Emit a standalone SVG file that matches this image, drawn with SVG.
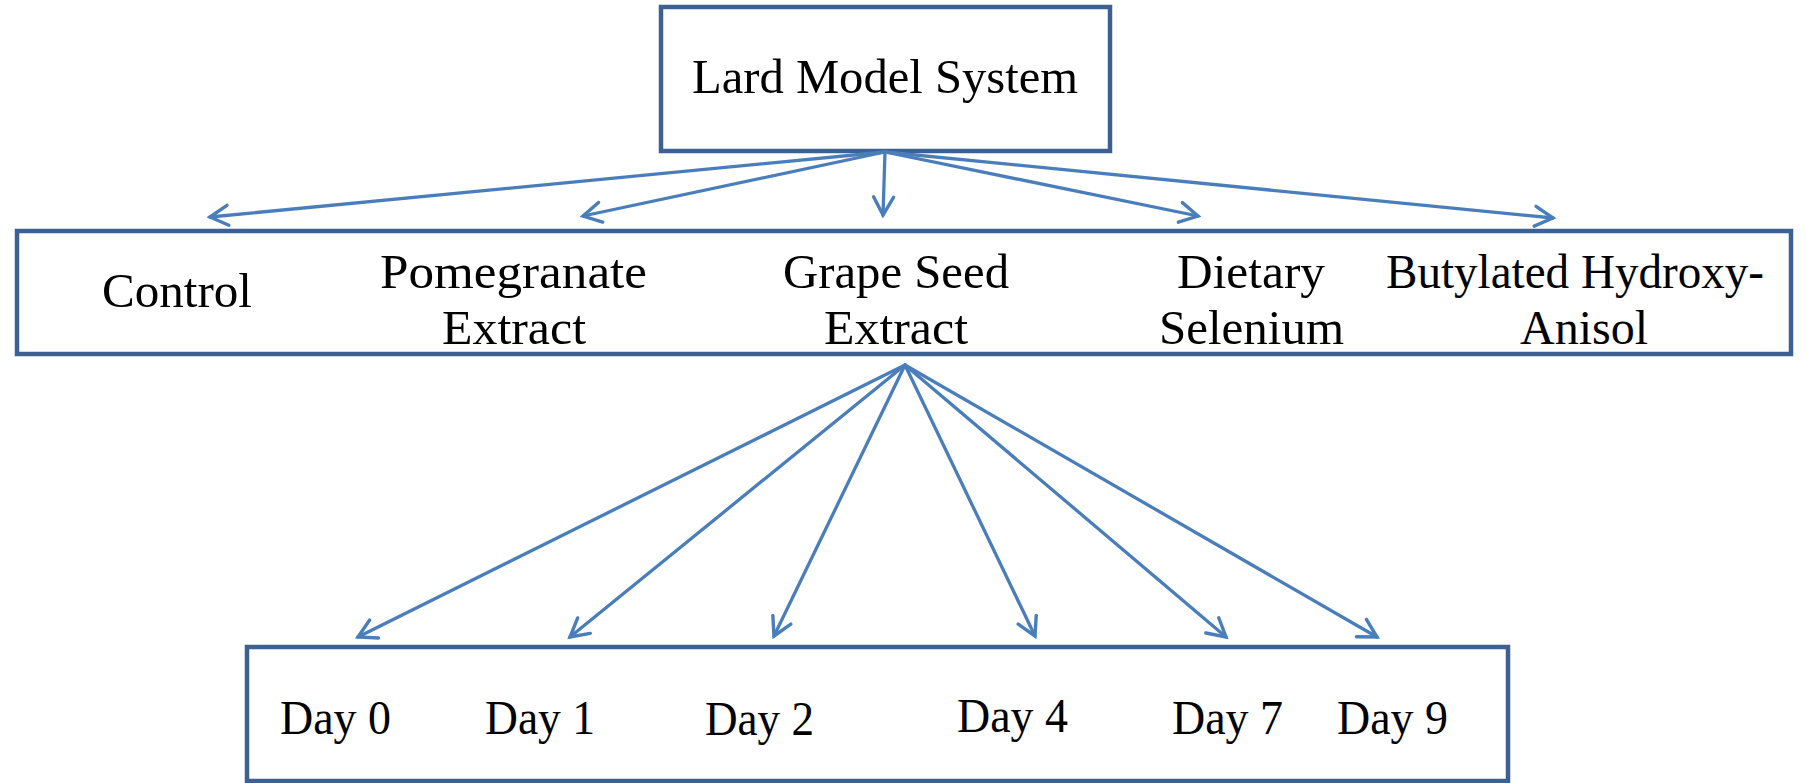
<svg xmlns="http://www.w3.org/2000/svg" width="1807" height="783" viewBox="0 0 1807 783">
  <style>
    .box { fill: #ffffff; stroke: #3C6191; stroke-width: 4.5; }
    .lbl { font-family: "Liberation Serif", "Times New Roman", serif; font-size: 48px; fill: #000000; }
    .conn line { stroke: #4A7EBB; stroke-width: 3.3; stroke-linecap: round; marker-end: url(#arrow); }
  </style>
  <defs>
    <marker id="arrow" markerUnits="userSpaceOnUse" viewBox="-20 -12 24 24" refX="0" refY="0" markerWidth="24" markerHeight="24" orient="auto" overflow="visible">
      <path d="M -18 -10 L 0 0 L -18 10" fill="none" stroke="#4A7EBB" stroke-width="3.4" stroke-linecap="round" stroke-linejoin="miter"/>
    </marker>
  </defs>

  <rect width="1807" height="783" fill="#ffffff"/>

  <!-- root -->
  <g id="lard-model-system">
    <rect class="box" x="661" y="7" width="449" height="144"/>
    <text class="lbl" x="692" y="93" textLength="386" lengthAdjust="spacingAndGlyphs">Lard Model System</text>
  </g>

  <!-- treatments -->
  <g id="treatments">
    <rect class="box" x="17" y="231" width="1774" height="123"/>
  </g>
  <g id="control">
    <text class="lbl" x="102" y="307" textLength="150" lengthAdjust="spacingAndGlyphs">Control</text>
  </g>
  <g id="pomegranate-extract">
    <text class="lbl" x="380" y="288" textLength="267" lengthAdjust="spacingAndGlyphs">Pomegranate</text>
    <text class="lbl" x="442" y="344" textLength="144" lengthAdjust="spacingAndGlyphs">Extract</text>
  </g>
  <g id="grape-seed-extract">
    <text class="lbl" x="783" y="288" textLength="226" lengthAdjust="spacingAndGlyphs">Grape Seed</text>
    <text class="lbl" x="824" y="344" textLength="144" lengthAdjust="spacingAndGlyphs">Extract</text>
  </g>
  <g id="dietary-selenium">
    <text class="lbl" x="1177" y="288" textLength="148" lengthAdjust="spacingAndGlyphs">Dietary</text>
    <text class="lbl" x="1159" y="344" textLength="185" lengthAdjust="spacingAndGlyphs">Selenium</text>
  </g>
  <g id="butylated-hydroxyanisol">
    <text class="lbl" x="1386" y="288" textLength="378" lengthAdjust="spacingAndGlyphs">Butylated Hydroxy-</text>
    <text class="lbl" x="1520" y="344" textLength="128" lengthAdjust="spacingAndGlyphs">Anisol</text>
  </g>

  <!-- sampling days -->
  <g id="days">
    <rect class="box" x="247" y="647" width="1261" height="134"/>
  </g>
  <g id="day-0"><text class="lbl" x="280" y="734" textLength="111" lengthAdjust="spacingAndGlyphs">Day 0</text></g>
  <g id="day-1"><text class="lbl" x="485" y="734" textLength="110" lengthAdjust="spacingAndGlyphs">Day 1</text></g>
  <g id="day-2"><text class="lbl" x="705" y="735" textLength="109" lengthAdjust="spacingAndGlyphs">Day 2</text></g>
  <g id="day-4"><text class="lbl" x="957" y="732" textLength="111" lengthAdjust="spacingAndGlyphs">Day 4</text></g>
  <g id="day-7"><text class="lbl" x="1172" y="734" textLength="111" lengthAdjust="spacingAndGlyphs">Day 7</text></g>
  <g id="day-9"><text class="lbl" x="1337" y="734" textLength="111" lengthAdjust="spacingAndGlyphs">Day 9</text></g>

  <!-- connectors -->
  <g id="connectors" class="conn">
    <line x1="885" y1="152" x2="210" y2="217"/>
    <line x1="885" y1="152" x2="583" y2="216"/>
    <line x1="885" y1="152" x2="883" y2="215"/>
    <line x1="885" y1="152" x2="1198" y2="216"/>
    <line x1="885" y1="152" x2="1553" y2="218"/>

    <line x1="905" y1="365" x2="358" y2="637"/>
    <line x1="905" y1="365" x2="570" y2="637"/>
    <line x1="905" y1="365" x2="774" y2="636"/>
    <line x1="905" y1="365" x2="1035" y2="636"/>
    <line x1="905" y1="365" x2="1226" y2="637"/>
    <line x1="905" y1="365" x2="1377" y2="637"/>
  </g>
</svg>
